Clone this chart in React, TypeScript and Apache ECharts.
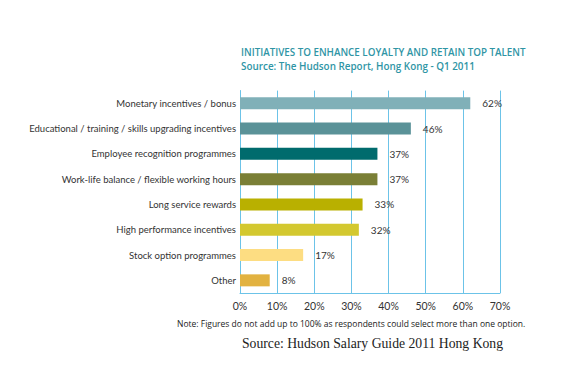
import React, { useEffect, useRef } from "react";
import * as echarts from "echarts";

const categories = [
  "Monetary incentives / bonus",
  "Educational / training / skills upgrading incentives",
  "Employee recognition programmes",
  "Work-life balance / flexible working hours",
  "Long service rewards",
  "High performance incentives",
  "Stock option programmes",
  "Other",
];
const values = [62, 46, 37, 37, 33, 32, 17, 8];
const barColors = [
  "#80b0b8",
  "#5a9298",
  "#006b6d",
  "#7a7f36",
  "#b9b000",
  "#d3c82f",
  "#fddd82",
  "#e2b240",
];
const titleLine1 = "INITIATIVES TO ENHANCE LOYALTY AND RETAIN TOP TALENT";
const titleLine2 = "Source: The Hudson Report, Hong Kong - Q1 2011";
const noteText = "Note: Figures do not add up to 100% as respondents could select more than one option.";
const sourceText = "Source: Hudson Salary Guide 2011 Hong Kong";

const FONT = "'Open Sans', 'Noto Sans', sans-serif";
const NARROW = "Lato, 'Open Sans', sans-serif";
const GRID_BLUE = "#6cc3e8";

export default function App() {
  const ref = useRef<HTMLDivElement>(null);
  useEffect(() => {
    document.body.style.margin = "0";
    if (!ref.current) return;
    const chart = echarts.init(ref.current, null, { renderer: "svg" });
    chart.setOption({
      animation: false,
      backgroundColor: "#ffffff",
      grid: { left: 240, right: 72, top: 90.6, height: 202.4, containLabel: false },
      xAxis: {
        type: "value",
        min: 0,
        max: 70,
        interval: 10,
        axisLine: { show: true, lineStyle: { color: GRID_BLUE, width: 1 } },
        axisTick: { show: false },
        splitLine: { show: true, lineStyle: { color: GRID_BLUE, width: 1 } },
        axisLabel: {
          formatter: "{value}%",
          color: "#333",
          fontSize: 10.5,
          fontFamily: NARROW,
          margin: 7,
        },
      },
      yAxis: {
        type: "category",
        data: categories,
        inverse: true,
        axisLine: { show: true, lineStyle: { color: GRID_BLUE, width: 1 } },
        axisTick: { show: false },
        axisLabel: {
          color: "#333",
          fontSize: 9.5,
          fontFamily: NARROW,
          margin: 4,
        },
      },
      series: [
        {
          type: "bar",
          data: values.map((v, i) => ({ value: v, itemStyle: { color: barColors[i] } })),
          barWidth: 12,
          label: {
            show: true,
            position: "right",
            distance: 12,
            formatter: "{c}%",
            color: "#333",
            fontSize: 10,
            fontFamily: NARROW,
          },
        },
      ],
      graphic: [
        {
          type: "text",
          left: 241,
          top: 47,
          style: { text: titleLine1, fill: "#2f95a5", font: `600 9.8px ${FONT}` },
        },
        {
          type: "text",
          left: 241,
          top: 61,
          style: { text: titleLine2, fill: "#2f95a5", font: `600 9.9px ${FONT}` },
        },
        {
          type: "text",
          left: 177,
          top: 319,
          style: { text: noteText, fill: "#222", font: `8.5px ${FONT}` },
        },
        {
          type: "text",
          left: 242,
          top: 336,
          style: { text: sourceText, fill: "#222", font: `13.7px 'Liberation Serif', serif` },
        },
      ],
    });
    return () => chart.dispose();
  }, []);
  return <div ref={ref} style={{ width: 572, height: 378 }} />;
}
